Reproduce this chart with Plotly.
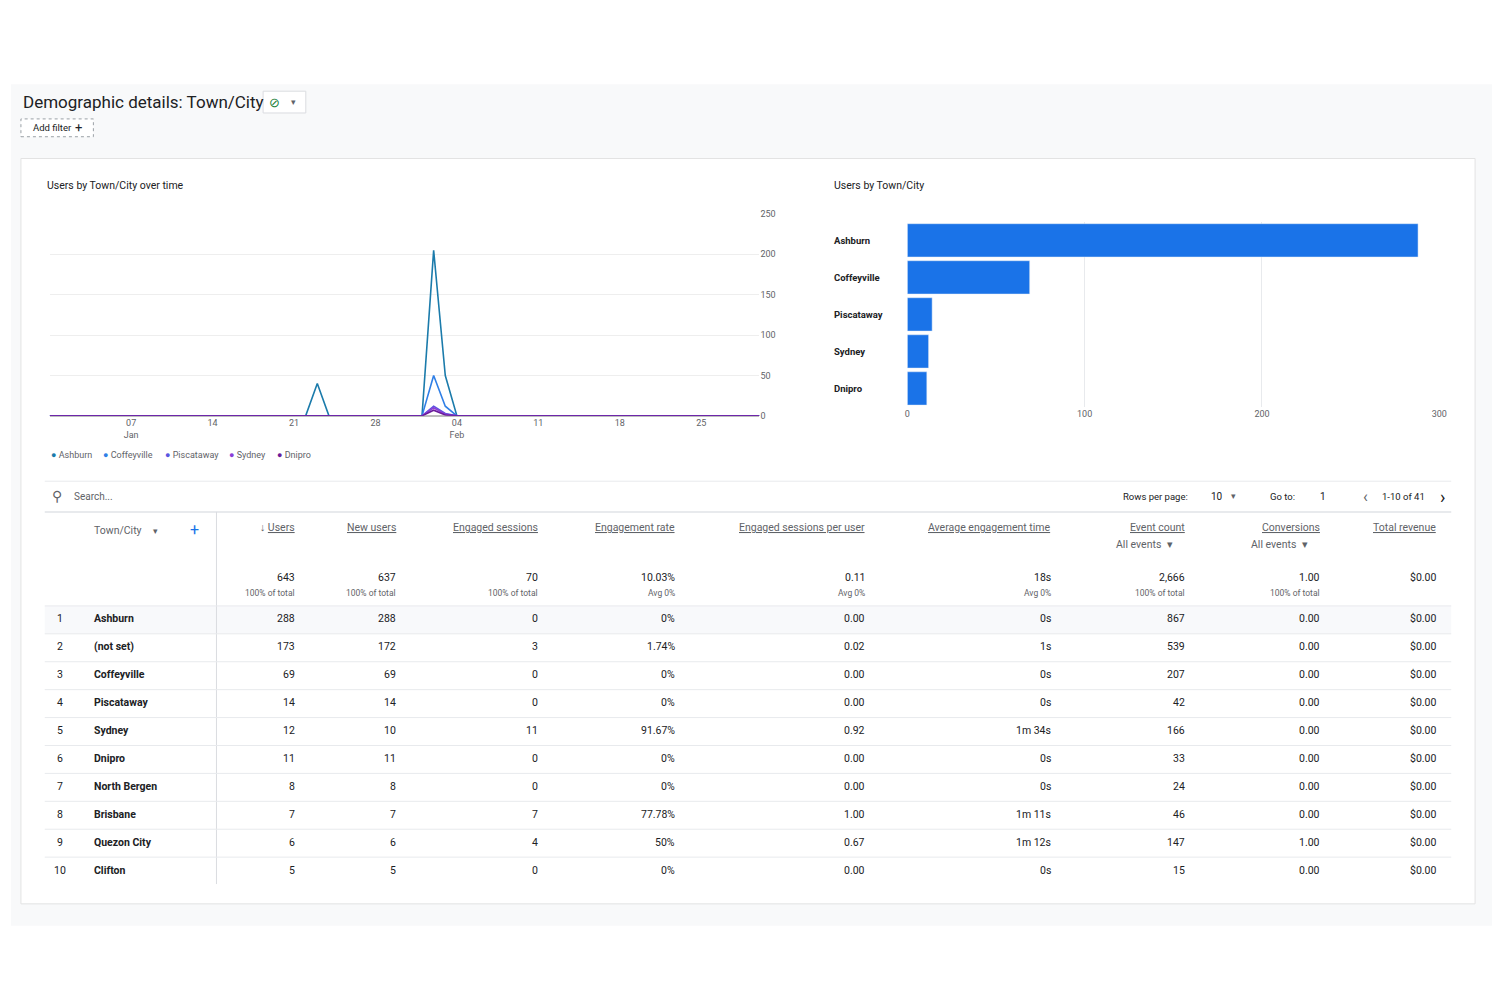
import plotly.graph_objects as go

# ---------------------------------------------------------------------------
# Data
# ---------------------------------------------------------------------------
dates = ["2023-12-31", "2024-01-22", "2024-01-23", "2024-01-24", "2024-02-01",
         "2024-02-02", "2024-02-03", "2024-02-04", "2024-03-01"]
ashburn = [0, 0, 40, 0, 0, 205, 50, 0, 0]
coffeyville = [0, 0, 0, 0, 0, 50, 12, 0, 0]
piscataway = [0, 0, 0, 0, 0, 12, 3, 0, 0]
sydney = [0, 0, 0, 0, 0, 10, 2, 0, 0]
dnipro = [0, 0, 0, 0, 0, 7, 1, 0, 0]

series_names = ["Ashburn", "Coffeyville", "Piscataway", "Sydney", "Dnipro"]
series_colors = ["#1b7bab", "#2f7fe6", "#5a56e0", "#8a3fd8", "#6a1b9a"]

bar_cities = ["Ashburn", "Coffeyville", "Piscataway", "Sydney", "Dnipro"]
bar_users = [288, 69, 14, 12, 11]

headers = ["Users", "New users", "Engaged sessions", "Engagement rate",
           "Engaged sessions per user", "Average engagement time",
           "Event count", "Conversions", "Total revenue"]
totals = ["643", "637", "70", "10.03%", "0.11", "18s", "2,666", "1.00", "$0.00"]
totals_sub = ["100% of total", "100% of total", "100% of total", "Avg 0%",
              "Avg 0%", "Avg 0%", "100% of total", "100% of total", ""]
cities = ["Ashburn", "(not set)", "Coffeyville", "Piscataway", "Sydney",
          "Dnipro", "North Bergen", "Brisbane", "Quezon City", "Clifton"]
rows = [
    ["288", "288", "0", "0%", "0.00", "0s", "867", "0.00", "$0.00"],
    ["173", "172", "3", "1.74%", "0.02", "1s", "539", "0.00", "$0.00"],
    ["69", "69", "0", "0%", "0.00", "0s", "207", "0.00", "$0.00"],
    ["14", "14", "0", "0%", "0.00", "0s", "42", "0.00", "$0.00"],
    ["12", "10", "11", "91.67%", "0.92", "1m 34s", "166", "0.00", "$0.00"],
    ["11", "11", "0", "0%", "0.00", "0s", "33", "0.00", "$0.00"],
    ["8", "8", "0", "0%", "0.00", "0s", "24", "0.00", "$0.00"],
    ["7", "7", "7", "77.78%", "1.00", "1m 11s", "46", "0.00", "$0.00"],
    ["6", "6", "4", "50%", "0.67", "1m 12s", "147", "1.00", "$0.00"],
    ["5", "5", "0", "0%", "0.00", "0s", "15", "0.00", "$0.00"],
]

# ---------------------------------------------------------------------------
# Helpers (screen pixel -> paper coords; page has an 8px body margin)
# ---------------------------------------------------------------------------
OFF = 8
W, H = 1484, 984
FONT = "Roboto, Arial, sans-serif"
GREY = "#5f6368"
DARK = "#202124"


def px(x):
    return (x - OFF) / W


def py(y):
    return 1 - (y - OFF) / H


annotations = []
shapes = []


def text(x, y, s, size=10, color=DARK, anchor="left", bold=False):
    annotations.append(dict(
        x=px(x), y=py(y), xref="paper", yref="paper", text=f"<b>{s}</b>" if bold else s,
        showarrow=False, xanchor=anchor, yanchor="middle",
        font=dict(size=size, color=color, family=FONT)))


def rect(x0, y0, x1, y1, fill=None, line=None, width=1, dash=None):
    shapes.append(dict(
        type="rect", xref="paper", yref="paper", x0=px(x0), x1=px(x1), y0=py(y1), y1=py(y0),
        fillcolor=fill or "rgba(0,0,0,0)", layer="below",
        line=dict(color=line or "rgba(0,0,0,0)", width=width, dash=dash)))


def hline(x0, x1, y, color="#e8eaed", width=1):
    shapes.append(dict(type="line", xref="paper", yref="paper", x0=px(x0), x1=px(x1),
                       y0=py(y), y1=py(y), line=dict(color=color, width=width)))


# ---------------------------------------------------------------------------
# Figure
# ---------------------------------------------------------------------------
fig = go.Figure()

for name, vals, color in zip(series_names, [ashburn, coffeyville, piscataway, sydney, dnipro],
                             series_colors):
    fig.add_trace(go.Scatter(x=dates, y=vals, mode="lines", name=name,
                             line=dict(color=color, width=1.6),
                             xaxis="x", yaxis="y", showlegend=False))

fig.add_trace(go.Bar(x=bar_users, y=bar_cities, orientation="h", marker_color="#1a73e8",
                     xaxis="x2", yaxis="y2", showlegend=False, width=0.9))

# page background and card
rect(OFF, 80, 1500, 930, fill="#f8f9fa")
rect(18, 155, 1483, 908, fill="white", line="#e3e3e3")

# header
text(18, 98, "Demographic details: Town/City", size=17, color=DARK)
rect(262, 87, 305, 109, fill="white", line="#dadce0")
text(273, 98, "⊘", size=13, color="#188038", anchor="center")
text(293, 98, "▾", size=9, color=GREY, anchor="center")
rect(18, 115, 91, 133, fill="white", line="#9aa0a6", dash="dot")
text(28, 124, "Add filter", size=9.5, color=DARK)
text(76, 124, "+", size=13, color=DARK, anchor="center")

# chart titles
text(42, 182, "Users by Town/City over time", size=10.5, color=DARK)
text(835, 182, "Users by Town/City", size=10.5, color=DARK)

# line legend
for name, color, lx in zip(series_names, series_colors, [46, 99, 161, 226, 274]):
    text(lx, 455, f"<span style='color:{color}'>●</span> {name}", size=9, color=GREY)

# bar category labels
for i, c in enumerate(bar_cities):
    text(835, 238 + 37.4 * i, c, size=9.5, color=DARK, bold=True)

# table chrome
hline(42, 1459, 481)
text(54, 496, "⚲", size=14, color=GREY, anchor="center")
text(69, 496, "Search...", size=10, color=GREY)
text(1196, 496, "Rows per page:", size=9.5, color=DARK, anchor="right")
text(1215, 496, "10", size=10, color=DARK)
text(1240, 496, "▾", size=9, color=GREY, anchor="center")
text(1304, 496, "Go to:", size=9.5, color=DARK, anchor="right")
text(1330, 496, "1", size=10, color=DARK, anchor="center")
text(1373, 496, "‹", size=16, color=GREY, anchor="center")
text(1411, 496, "1-10 of 41", size=9.5, color=DARK, anchor="center")
text(1450, 496, "›", size=18, color=DARK, anchor="center")
hline(42, 1459, 512, color="#e8eaed", width=2)

col_x = [296, 398, 541, 679, 870, 1058, 1193, 1329, 1446]
text(90, 531, "Town/City", size=10.5, color=GREY)
text(154, 531, "▾", size=9, color=GREY, anchor="center")
text(193, 530, "+", size=16, color="#1a73e8", anchor="center")
for i, (x, h) in enumerate(zip(col_x, headers)):
    label = f"↓ <u>{h}</u>" if i == 0 else f"<u>{h}</u>"
    text(x, 528, label, size=10.5, color=GREY, anchor="right")
    text(x, 578, totals[i], size=10.5, color=DARK, anchor="right")
    text(x, 594, totals_sub[i], size=8.5, color=GREY, anchor="right")
for x in (1193, 1329):
    text(x - 12, 545, "All events  ▾", size=10.5, color=GREY, anchor="right")

shapes.append(dict(type="line", xref="paper", yref="paper", x0=px(215), x1=px(215),
                   y0=py(512), y1=py(888), line=dict(color="#dadce0", width=1)))

row_h = 28.2
top = 607
rect(42, top, 1459, top + row_h, fill="#f8f9fb")
for r, (city, vals) in enumerate(zip(cities, rows)):
    yc = top + row_h * r + row_h / 2 - 1
    hline(42, 1459, top + row_h * r)
    text(57, yc, str(r + 1), size=10.5, color=DARK, anchor="center")
    text(90, yc, city, size=10.5, color=DARK, bold=True)
    for x, v in zip(col_x, vals):
        text(x, yc, v, size=10.5, color=DARK, anchor="right")

fig.update_layout(
    width=W, height=H, margin=dict(l=0, r=0, t=0, b=0),
    paper_bgcolor="white", plot_bgcolor="rgba(0,0,0,0)",
    font=dict(family=FONT, color=GREY, size=10),
    annotations=annotations, shapes=shapes,
    xaxis=dict(domain=[px(47), px(762)], type="date",
               range=["2023-12-31", "2024-03-01"],
               tickvals=["2024-01-07", "2024-01-14", "2024-01-21", "2024-01-28",
                         "2024-02-04", "2024-02-11", "2024-02-18", "2024-02-25"],
               ticktext=["07<br>Jan", "14", "21", "28", "04<br>Feb", "11", "18", "25"],
               showgrid=False, showline=False, zeroline=False,
               tickfont=dict(size=9, color=GREY), anchor="y"),
    yaxis=dict(domain=[py(415), py(211)], range=[0, 250], side="right",
               tickvals=[0, 50, 100, 150, 200, 250], gridcolor="#eeeeee",
               zeroline=True, zerolinecolor="#bdbdbd",
               tickfont=dict(size=9, color=GREY), anchor="x", ticks="", ticklen=15,
               tickcolor="white"),
    xaxis2=dict(domain=[px(911), px(1447)], range=[0, 300], tickvals=[0, 100, 200, 300],
                gridcolor="#e8eaed", zeroline=False, anchor="y2",
                tickfont=dict(size=9, color=GREY)),
    yaxis2=dict(domain=[py(406), py(219)], autorange="reversed", anchor="x2",
                showgrid=False, showticklabels=False),
    bargap=0.1,
)

fig.write_html("out.html")
